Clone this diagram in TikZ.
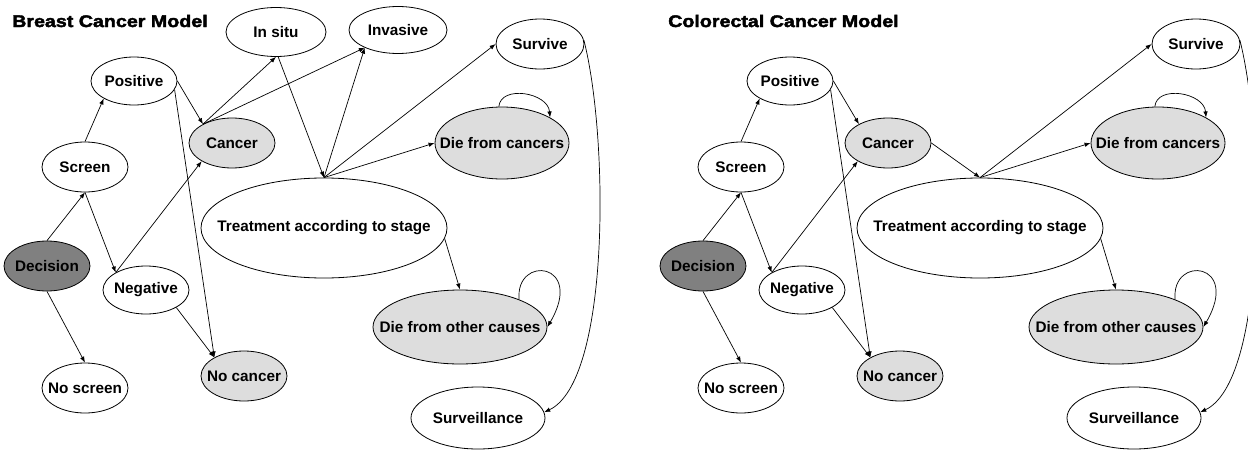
\documentclass[tikz,border=0pt]{standalone}
\usepackage{fontspec}
\setmainfont{Liberation Sans}
\newfontfamily\titlefont{Liberation Sans}[FakeStretch=1.17,FakeBold=2.5]
\usetikzlibrary{shapes.geometric,arrows.meta}
\definecolor{ltgray}{HTML}{DDDDDD}
\definecolor{dkgray}{HTML}{808080}
\newcommand\tx[1]{\makebox[0pt]{#1}}
\tikzset{
  st/.style={ellipse, draw, line width=0.8pt, inner sep=0pt, font=\bfseries\fontsize{15.3}{18}\selectfont},
  lt/.style={st, fill=ltgray},
  dk/.style={st, fill=dkgray},
  sz/.style 2 args={minimum width=#1pt, minimum height=#2pt},
  arr/.style={draw, line width=0.7pt, -{Latex[length=6pt,width=4.5pt]}},
  ttl/.style={anchor=base west, inner sep=0pt, font=\titlefont\bfseries\fontsize{16.8}{20}\selectfont}
}
\newcommand\panelbase{%
  \node[dk, sz={86}{50}] (dec) at (47,266) {\tx{Decision}};
  \node[st, sz={86}{50}] (scr) at (85,167) {\tx{Screen}};
  \node[st, sz={86}{50}] (nos) at (85,388) {\tx{No screen}};
  \node[st, sz={86}{48}] (pos) at (134,81) {\tx{Positive}};
  \node[st, sz={86}{48}] (neg) at (146,290) {\tx{Negative}};
  \node[lt, sz={86}{50}] (can) at (232,143) {\tx{Cancer}};
  \node[lt, sz={86}{50}] (noc) at (244,376) {\tx{No cancer}};
  \node[st, sz={246}{100}] (trt) at (324,228) {\tx{Treatment according to stage}};
  \node[st, sz={88}{50}] (sur) at (540,44) {\tx{Survive}};
  \node[lt, sz={134}{72}] (dfc) at (502,143) {\tx{Die from cancers}};
  \node[lt, sz={174}{74}] (dfo) at (460,327) {\tx{Die from other causes}};
  \node[st, sz={134}{62}] (srv) at (478,418) {\tx{Surveillance}};
  \path[arr] (dec.north) -- (scr.south);
  \path[arr] (dec.south) -- (nos.north);
  \path[arr] (scr.north) -- (pos.210);
  \path[arr] (scr.south) -- (neg.150);
  \path[arr] (pos.east) -- (can.147);
  \path[arr] (pos.-12) -- (noc.148);
  \path[arr] (neg.150) -- (can.211);
  \path[arr] (neg.-30) -- (noc.148);
  \path[arr] (trt.north) -- (sur.west);
  \path[arr] (trt.north) -- (dfc.west);
  \path[arr] (dfc.95) .. controls +(2,-22) and +(-2,-25) .. (dfc.28);
  \path[arr] (trt.-5) -- (dfo.north);
  \path[arr] (dfo.25) .. controls +(-4,-45) and +(38,-65) .. (dfo.east);
  \path[arr] (sur.5) .. controls +(25,98) and +(66,-31) .. (srv.5);
}
\begin{document}
\begin{tikzpicture}[x=1pt, y=-1pt]
  \useasboundingbox (0,0) rectangle (1248,450);
  \begin{scope}[name prefix=L-]
    \node[ttl] (title) at (12,27) {Breast Cancer Model};
    \panelbase
    \node[st, sz={100}{49}] (ins) at (276,32) {\tx{In situ}};
    \node[st, sz={98}{47}] (inv) at (398,30) {\tx{Invasive}};
    \path[arr] (can.147) -- (ins.south);
    \path[arr] (can.147) -- (inv.208);
    \path[arr] (ins.-85) -- (trt.north);
    \path[arr] (trt.north) -- (inv.208);
  \end{scope}
  \begin{scope}[xshift=656pt, name prefix=R-]
    \node[ttl] (title) at (12,27) {Colorectal Cancer Model};
    \panelbase
    \path[arr] (can.east) -- (trt.north);
  \end{scope}
\end{tikzpicture}
\end{document}
